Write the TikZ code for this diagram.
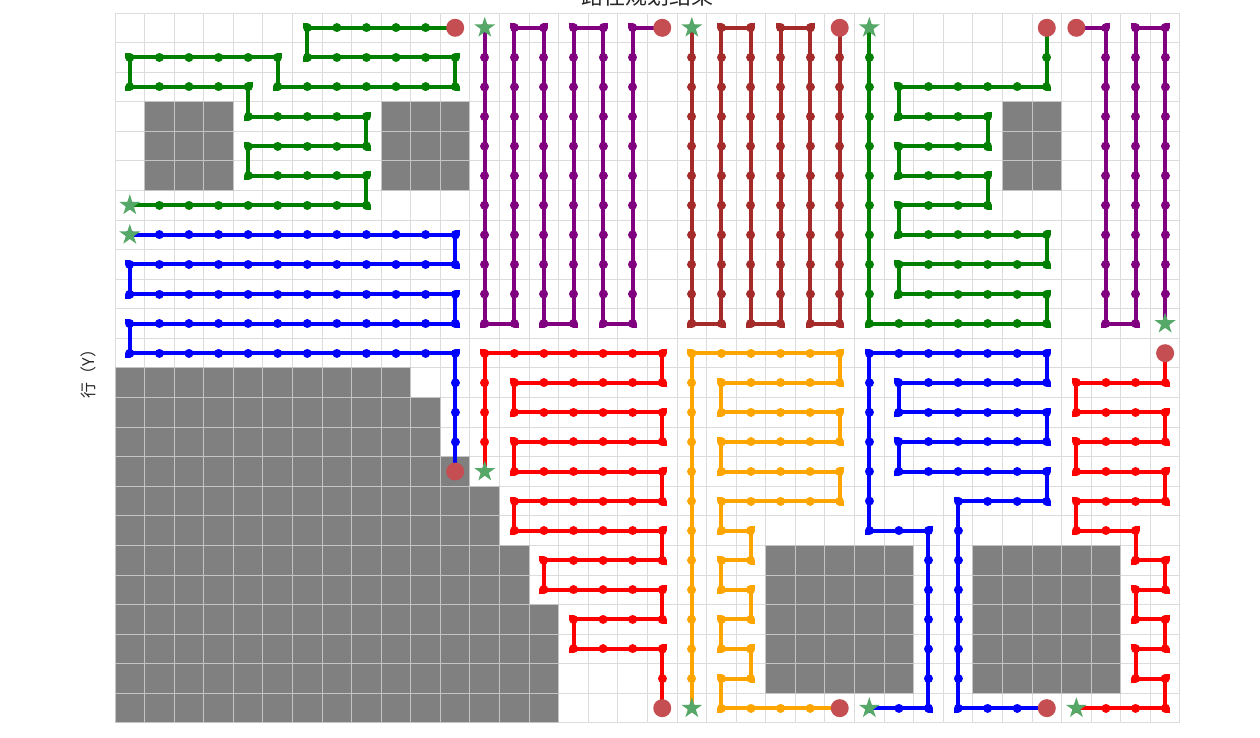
\documentclass[tikz,border=0pt]{standalone}
\usepackage{fontspec}
\newfontfamily\cjk{Noto Sans CJK SC}
\usetikzlibrary{shapes.geometric}
\definecolor{gridc}{HTML}{DCDCDC}
\definecolor{obstc}{HTML}{808080}
\definecolor{obstedge}{HTML}{C4C4C4}
\definecolor{pgreen}{HTML}{008000}
\definecolor{pblue}{HTML}{0000FF}
\definecolor{ppurple}{HTML}{800080}
\definecolor{pbrown}{HTML}{A52A2A}
\definecolor{pred}{HTML}{FF0000}
\definecolor{porange}{HTML}{FFA500}
\definecolor{startc}{HTML}{55A868}
\definecolor{endc}{HTML}{C44E52}
\definecolor{textc}{HTML}{262626}
\tikzset{
  gridline/.style={draw=gridc, line width=1pt},
  obst/.style={fill=obstc, draw=obstedge, line width=1pt},
  route/.style={line width=4pt, line join=round},
  routedots/.style={line width=9pt, line cap=round, dash pattern=on 0.01pt off 29.57pt},
  startmark/.style={star, star points=5, star point ratio=2.618, fill=startc, draw=none, inner sep=0pt, minimum size=22pt},
  endmark/.style={circle, fill=endc, draw=none, inner sep=0pt, minimum size=18pt},
}
\newcommand{\robotroute}[2]{%
  \draw[route,#1] plot coordinates {#2};
  \draw[routedots,#1] plot coordinates {#2};}
\begin{document}
\begin{tikzpicture}[x=29.58pt, y=-29.58pt]
\useasboundingbox (-4.388,-0.940) rectangle (38.208,23.976);
\fill[white] (-4.388,-0.940) rectangle (38.208,23.976);
% grid
\foreach \i in {0,...,36} \draw[gridline] (\i-0.5,-0.5) -- (\i-0.5,23.5);
\foreach \j in {0,...,24} \draw[gridline] (-0.5,\j-0.5) -- (35.5,\j-0.5);
% obstacles
\foreach \ca/\cb/\ra/\rb in {1/3/3/5, 9/11/3/5, 30/31/3/5, 22/26/18/22, 29/33/18/22, 0/9/12/12, 0/10/13/14, 0/11/15/15, 0/12/16/17, 0/13/18/19, 0/14/20/23} {
  \foreach \c in {\ca,...,\cb} {
    \foreach \r in {\ra,...,\rb} {
      \draw[obst] (\c-0.5,\r-0.5) rectangle (\c+0.5,\r+0.5);
    }
  }
}
% routes
\robotroute{pgreen}{(0,6) (8,6) (8,5) (4,5) (4,4) (8,4) (8,3) (4,3) (4,2) (0,2) (0,1) (5,1) (5,2) (11,2) (11,1) (6,1) (6,0) (11,0)}
\robotroute{pblue}{(0,7) (11,7) (11,8) (0,8) (0,9) (11,9) (11,10) (0,10) (0,11) (11,11) (11,15)}
\robotroute{ppurple}{(12,0) (12,10) (13,10) (13,0) (14,0) (14,10) (15,10) (15,0) (16,0) (16,10) (17,10) (17,0) (18,0)}
\robotroute{pbrown}{(19,0) (19,10) (20,10) (20,0) (21,0) (21,10) (22,10) (22,0) (23,0) (23,10) (24,10) (24,0)}
\robotroute{pgreen}{(25,0) (25,10) (31,10) (31,9) (26,9) (26,8) (31,8) (31,7) (26,7) (26,6) (29,6) (29,5) (26,5) (26,4) (29,4) (29,3) (26,3) (26,2) (31,2) (31,0)}
\robotroute{ppurple}{(35,10) (35,0) (34,0) (34,10) (33,10) (33,0) (32,0)}
\robotroute{pred}{(12,15) (12,11) (18,11) (18,12) (13,12) (13,13) (18,13) (18,14) (13,14) (13,15) (18,15) (18,16) (13,16) (13,17) (18,17) (18,18) (14,18) (14,19) (18,19) (18,20) (15,20) (15,21) (18,21) (18,23)}
\robotroute{porange}{(19,23) (19,11) (24,11) (24,12) (20,12) (20,13) (24,13) (24,14) (20,14) (20,15) (24,15) (24,16) (20,16) (20,17) (21,17) (21,18) (20,18) (20,19) (21,19) (21,20) (20,20) (20,21) (21,21) (21,22) (20,22) (20,23) (24,23)}
\robotroute{pblue}{(25,23) (27,23) (27,17) (25,17) (25,11) (31,11) (31,12) (26,12) (26,13) (31,13) (31,14) (26,14) (26,15) (31,15) (31,16) (28,16) (28,23) (31,23)}
\robotroute{pred}{(32,23) (35,23) (35,22) (34,22) (34,21) (35,21) (35,20) (34,20) (34,19) (35,19) (35,18) (34,18) (34,17) (32,17) (32,16) (35,16) (35,15) (32,15) (32,14) (35,14) (35,13) (32,13) (32,12) (35,12) (35,11)}
% start markers
\node[startmark] (s1) at (0,6) {};
\node[startmark] (s2) at (0,7) {};
\node[startmark] (s3) at (12,0) {};
\node[startmark] (s4) at (19,0) {};
\node[startmark] (s5) at (25,0) {};
\node[startmark] (s6) at (35,10) {};
\node[startmark] (s7) at (12,15) {};
\node[startmark] (s8) at (19,23) {};
\node[startmark] (s9) at (25,23) {};
\node[startmark] (s10) at (32,23) {};
% end markers
\node[endmark] (e1) at (11,0) {};
\node[endmark] (e2) at (11,15) {};
\node[endmark] (e3) at (18,0) {};
\node[endmark] (e4) at (24,0) {};
\node[endmark] (e5) at (31,0) {};
\node[endmark] (e6) at (32,0) {};
\node[endmark] (e7) at (18,23) {};
\node[endmark] (e8) at (24,23) {};
\node[endmark] (e9) at (31,23) {};
\node[endmark] (e10) at (35,11) {};
% texts
\node[anchor=base, font=\cjk\fontsize{22}{24}\selectfont, text=textc, inner sep=0pt] (title) at (17.5,-0.79) {路径规划结果};
\node[rotate=90, font=\cjk\fontsize{16}{18}\selectfont, text=textc, inner sep=0pt] (ylab) at (-1.413,11.57) {行（Y）};
\end{tikzpicture}
\end{document}
